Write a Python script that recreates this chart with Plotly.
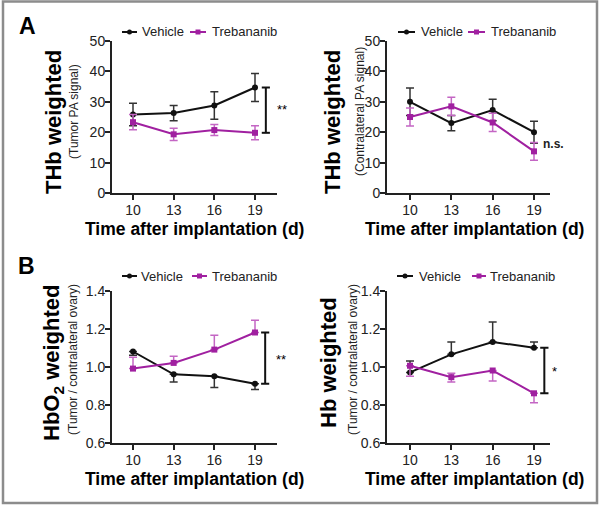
import plotly.graph_objects as go

# ---------------- data ----------------
days = [10, 13, 16, 19]

# Panel A (left): THb weighted, tumor PA signal
thb_tumor_vehicle = [25.8, 26.3, 28.8, 34.7]
thb_tumor_vehicle_err = [3.7, 2.5, 4.5, 4.6]
thb_tumor_treb = [23.3, 19.3, 20.7, 19.8]
thb_tumor_treb_err = [2.5, 2.0, 1.8, 2.3]

# Panel A (right): THb weighted, contralateral PA signal
thb_contra_vehicle = [30.0, 23.0, 27.3, 20.0]
thb_contra_vehicle_err = [4.5, 2.5, 3.5, 3.6]
thb_contra_treb = [25.0, 28.5, 23.2, 13.7]
thb_contra_treb_err = [3.0, 3.0, 3.0, 2.9]

# Panel B (left): HbO2 weighted, tumor / contralateral ovary
hbo2_vehicle = [1.08, 0.96, 0.95, 0.91]
hbo2_vehicle_err_up = [0.0, 0.0, 0.0, 0.0]
hbo2_vehicle_err_dn = [0.02, 0.04, 0.06, 0.03]
hbo2_treb = [0.99, 1.02, 1.09, 1.18]
hbo2_treb_err_up = [0.06, 0.035, 0.075, 0.065]
hbo2_treb_err_dn = [0.0, 0.0, 0.0, 0.0]

# Panel B (right): Hb weighted, tumor / contralateral ovary
hb_vehicle = [0.97, 1.065, 1.13, 1.10]
hb_vehicle_err_up = [0.06, 0.065, 0.105, 0.03]
hb_vehicle_err_dn = [0.0, 0.0, 0.0, 0.0]
hb_treb = [1.005, 0.945, 0.98, 0.86]
hb_treb_err_up = [0.0, 0.02, 0.0, 0.0]
hb_treb_err_dn = [0.055, 0.025, 0.055, 0.05]

a_ticks = [0, 10, 20, 30, 40, 50]
b_ticks = [0.6, 0.8, 1.0, 1.2, 1.4]

series_names = ["Vehicle", "Trebananib"]

# ---------------- style ----------------
W, H = 600, 506
FONT = "Arial, Liberation Sans, sans-serif"
BLACK = "#111111"
PURPLE = "#a020a0"
PURPLE_ERR = "#c466c4"
AX = "#222222"


def px_x(p):
    return p / W


def px_y(p):
    return 1 - p / H


fig = go.Figure()

panels = [
    ("x", "y", thb_tumor_vehicle, thb_tumor_vehicle_err, thb_tumor_vehicle_err,
     thb_tumor_treb, thb_tumor_treb_err, thb_tumor_treb_err),
    ("x2", "y2", thb_contra_vehicle, thb_contra_vehicle_err, thb_contra_vehicle_err,
     thb_contra_treb, thb_contra_treb_err, thb_contra_treb_err),
    ("x3", "y3", hbo2_vehicle, hbo2_vehicle_err_up, hbo2_vehicle_err_dn,
     hbo2_treb, hbo2_treb_err_up, hbo2_treb_err_dn),
    ("x4", "y4", hb_vehicle, hb_vehicle_err_up, hb_vehicle_err_dn,
     hb_treb, hb_treb_err_up, hb_treb_err_dn),
]

for xa, ya, v, vu, vd, t, tu, td in panels:
    fig.add_trace(go.Scatter(
        x=days, y=v, xaxis=xa, yaxis=ya, mode="lines+markers", name=series_names[0],
        line=dict(color=BLACK, width=2), marker=dict(color=BLACK, size=6),
        error_y=dict(type="data", symmetric=False, array=vu, arrayminus=vd,
                     color="#333333", thickness=1.5, width=4),
        showlegend=False, cliponaxis=False))
    fig.add_trace(go.Scatter(
        x=days, y=t, xaxis=xa, yaxis=ya, mode="lines+markers", name=series_names[1],
        line=dict(color=PURPLE, width=2), marker=dict(color=PURPLE, size=6, symbol="square"),
        error_y=dict(type="data", symmetric=False, array=tu, arrayminus=td,
                     color=PURPLE_ERR, thickness=1.5, width=4),
        showlegend=False, cliponaxis=False))

left_x = (112, 277, 133, 255)
right_x = (387, 550, 410, 534)
top_y = (41, 193)
bot_y = (290.7, 442.7)


def xrange_for(g):
    s, e, p10, p19 = g
    k = (p19 - p10) / 9.0
    return [10 - (p10 - s) / k, 19 + (e - p19) / k]


def xaxis_cfg(g, anchor):
    return dict(domain=[px_x(g[0]), px_x(g[1])], range=xrange_for(g), anchor=anchor,
                tickvals=days, ticks="outside", ticklen=5, tickwidth=1.5, tickcolor=AX,
                showline=True, linewidth=2, linecolor=AX, showgrid=False, zeroline=False,
                automargin=False, ticklabelstandoff=-2,
                tickfont=dict(size=14, color=AX, family=FONT), fixedrange=True)


def yaxis_cfg(gy, anchor, ticks, rng, fmt):
    return dict(domain=[px_y(gy[1]), px_y(gy[0])], range=rng, anchor=anchor,
                tickvals=ticks, tickformat=fmt, ticks="outside", ticklen=5, tickwidth=1.5,
                tickcolor=AX, showline=True, linewidth=2, linecolor=AX, showgrid=False,
                zeroline=False, automargin=False, ticklabelstandoff=-3,
                tickfont=dict(size=14, color=AX, family=FONT), fixedrange=True)


fig.update_layout(
    width=W, height=H, margin=dict(l=0, r=0, t=0, b=0, autoexpand=False),
    paper_bgcolor="white", plot_bgcolor="white", showlegend=False,
    font=dict(family=FONT, color=AX),
    xaxis=xaxis_cfg(left_x, "y"),
    yaxis=yaxis_cfg(top_y, "x", a_ticks, [0, 50], "d"),
    xaxis2=xaxis_cfg(right_x, "y2"),
    yaxis2=yaxis_cfg(top_y, "x2", a_ticks, [0, 50], "d"),
    xaxis3=xaxis_cfg(left_x, "y3"),
    yaxis3=yaxis_cfg(bot_y, "x3", b_ticks, [0.6, 1.4], ".1f"),
    xaxis4=xaxis_cfg(right_x, "y4"),
    yaxis4=yaxis_cfg(bot_y, "x4", b_ticks, [0.6, 1.4], ".1f"),
)

ann = []
shapes = []


def add_text(text, x, y, size, color="black", xanchor="center", angle=0):
    ann.append(dict(text=text, x=px_x(x), y=px_y(y), xref="paper", yref="paper",
                    xanchor=xanchor, yanchor="middle", showarrow=False, textangle=angle,
                    font=dict(size=size, color=color, family=FONT)))


# outer frame
shapes.append(dict(type="rect", xref="paper", yref="paper",
                   x0=px_x(3), x1=px_x(597), y0=px_y(503), y1=px_y(1.5),
                   line=dict(color="#8c8c8c", width=2.5)))

# panel letters
add_text("<b>A</b>", 27, 26, 23)
add_text("<b>B</b>", 26, 266, 23)

# y titles (bold + subtitle)
ytitles = [
    ("THb weighted", "(Tumor PA signal)", 54, 74, 122, 112),
    ("THb weighted", "(Contralateral PA signal)", 333, 360, 122, 112),
    ("HbO<sub>2</sub> weighted", "(Tumor / contralateral ovary)", 53, 73, 363, 360),
    ("Hb weighted", "(Tumor / contralateral ovary)", 328, 353, 363, 360),
]
for main, sub, xm, xs, ym, ys in ytitles:
    add_text("<b>" + main + "</b>", xm, ym, 22, angle=-90)
    add_text(sub, xs, ys, 12, color="#222222", angle=-90)

# x titles
for xc, yc in [(194.5, 229), (474, 229), (194.5, 479), (474, 479)]:
    add_text("<b>Time after implantation (d)</b>", xc, yc, 17.5)

# legends (line + marker + label)
legends = [
    (122, 137, 140, 190, 206, 210, 32),
    (398, 415, 419, 468, 485, 489, 32),
    (122, 137, 139, 192, 207, 210, 276),
    (397, 413, 417, 472, 486, 488, 276),
]
for v0, v1, vt, t0, t1, tt, yl in legends:
    for (l0, l1, lt, col, name, sym) in [(v0, v1, vt, BLACK, series_names[0], "circle"),
                                         (t0, t1, tt, PURPLE, series_names[1], "rect")]:
        shapes.append(dict(type="line", xref="paper", yref="paper",
                           x0=px_x(l0), x1=px_x(l1), y0=px_y(yl), y1=px_y(yl),
                           line=dict(color=col, width=2)))
        cx = (l0 + l1) / 2
        shapes.append(dict(type=sym, xref="paper", yref="paper",
                           x0=px_x(cx - 2.5), x1=px_x(cx + 2.5),
                           y0=px_y(yl + 2.5), y1=px_y(yl - 2.5),
                           fillcolor=col, line=dict(color=col, width=0)))
        add_text(name, lt, yl, 13, color="#222222", xanchor="left")

# significance brackets (data coordinates)
brackets = [
    ("x", "y", 19.8, thb_tumor_vehicle[3], thb_tumor_treb[3], 0.3),
    ("x3", "y3", 19.75, hbo2_treb[3], hbo2_vehicle[3], 0.3),
    ("x4", "y4", 19.75, hb_vehicle[3], hb_treb[3], 0.3),
]
for xa, ya, bx, ytop, ybot, hw in brackets:
    for seg in [(bx, ytop, bx, ybot), (bx - hw, ytop, bx + hw, ytop),
                (bx - hw, ybot, bx + hw, ybot)]:
        shapes.append(dict(type="line", xref=xa, yref=ya, x0=seg[0], y0=seg[1],
                           x1=seg[2], y1=seg[3], line=dict(color=BLACK, width=2)))

add_text("**", 275, 110, 13, xanchor="left")
add_text("**", 274, 359, 13, xanchor="left")
add_text("*", 550, 371, 13, xanchor="left")
add_text("<b>n.s.</b>", 541, 144, 12, color="#222222", xanchor="left")

fig.update_layout(annotations=ann, shapes=shapes)

fig.write_html("out.html", config={"displayModeBar": False},
               post_script="document.body.style.margin='0px';")
